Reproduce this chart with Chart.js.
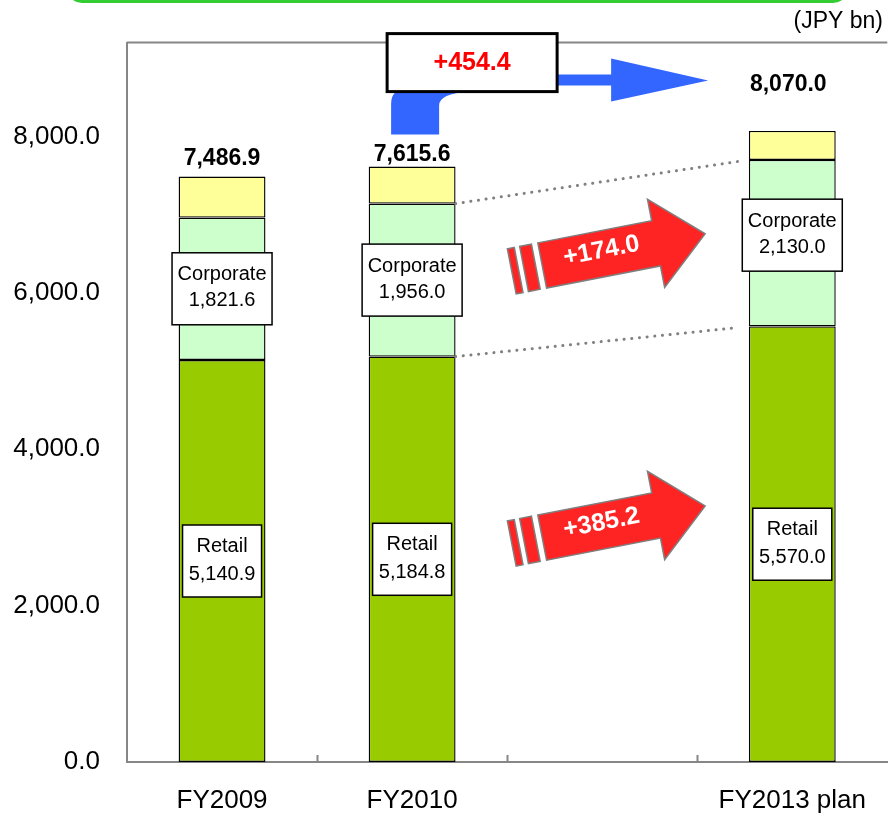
<!DOCTYPE html>
<html>
<head>
<meta charset="utf-8">
<style>
  html, body { margin: 0; padding: 0; background: #fff; }
  canvas { display: block; }
</style>
<script src="https://cdn.jsdelivr.net/npm/chart.js@4.4.1/dist/chart.umd.min.js"></script>
</head>
<body>
<canvas id="salesChart" width="889" height="813"></canvas>
<script>
const categories = ['FY2009', 'FY2010', '', 'FY2013 plan'];
const retail = [5140.9, 5184.8, null, 5570.0];
const corporate = [1821.6, 1956.0, null, 2130.0];
const other = [524.4, 474.8, null, 370.0];
const yTicks = [0, 2000, 4000, 6000, 8000];

const FONT = '"Liberation Sans", Arial, sans-serif';
const fmt = v => v.toLocaleString('en-US', { minimumFractionDigits: 1, maximumFractionDigits: 1 });
const signed = v => (v >= 0 ? '+' : '') + fmt(v);
const totals = retail.map((r, i) => r == null ? null : r + corporate[i] + other[i]);

// how far each total label sits above its bar
const totalLift = [18, 12, null, 46];
const corpBoxShift = [0, 0, null, -8];

function textBox(ctx, cx, cy, w, h, lines, lineGap) {
  ctx.fillStyle = '#fff';
  ctx.fillRect(cx - w / 2, cy - h / 2, w, h);
  ctx.strokeStyle = '#000';
  ctx.lineWidth = 1.5;
  ctx.strokeRect(cx - w / 2, cy - h / 2, w, h);
  ctx.fillStyle = '#000';
  ctx.font = '20px ' + FONT;
  ctx.textAlign = 'center';
  ctx.textBaseline = 'middle';
  ctx.fillText(lines[0], cx, cy - lineGap);
  ctx.fillText(lines[1], cx, cy + lineGap - 2);
}

function redArrow(ctx, ox, oy, text) {
  ctx.save();
  ctx.translate(ox, oy);
  ctx.rotate(-11 * Math.PI / 180);
  ctx.fillStyle = '#ff2424';
  ctx.strokeStyle = '#7f7f7f';
  ctx.lineWidth = 1.5;
  ctx.lineJoin = 'miter';
  ctx.beginPath();
  ctx.moveTo(0, -23);
  ctx.lineTo(116, -23);
  ctx.lineTo(116, -45);
  ctx.lineTo(166, 0);
  ctx.lineTo(116, 45);
  ctx.lineTo(116, 23);
  ctx.lineTo(0, 23);
  ctx.closePath();
  ctx.fill();
  ctx.stroke();
  [[-18.5, 12], [-31, 7]].forEach(([sx, sw]) => {
    ctx.fillRect(sx, -23, sw, 46);
    ctx.strokeRect(sx, -23, sw, 46);
  });
  ctx.fillStyle = '#fff';
  ctx.font = 'bold 25px ' + FONT;
  ctx.textAlign = 'center';
  ctx.textBaseline = 'middle';
  ctx.fillText(text, 61, -3);
  ctx.restore();
}

const annotations = {
  id: 'annotations',
  afterDatasetsDraw(chart) {
    const { ctx, chartArea: a, scales: { x, y } } = chart;
    const retailBars = chart.getDatasetMeta(0).data;
    const corpBars = chart.getDatasetMeta(1).data;
    const topBars = chart.getDatasetMeta(2).data;
    ctx.save();

    // green frame edge at the very top
    ctx.strokeStyle = '#33cc33';
    ctx.lineWidth = 3;
    ctx.beginPath();
    ctx.roundRect(68, -40, 779, 41.5, 14);
    ctx.stroke();

    ctx.fillStyle = '#000';
    ctx.font = '23px ' + FONT;
    ctx.textAlign = 'right';
    ctx.textBaseline = 'middle';
    ctx.fillText('(JPY bn)', 883, 22);

    // plot frame top edge and inward category ticks
    ctx.strokeStyle = '#868686';
    ctx.lineWidth = 2;
    ctx.beginPath();
    ctx.moveTo(a.left, a.top);
    ctx.lineTo(a.right, a.top);
    for (let i = 0; i < categories.length - 1; i++) {
      const px = Math.round((x.getPixelForValue(i) + x.getPixelForValue(i + 1)) / 2) + 0.5;
      ctx.moveTo(px, a.bottom);
      ctx.lineTo(px, a.bottom - 7);
    }
    ctx.stroke();

    // dotted guides from FY2010 segment tops to FY2013
    const from = retailBars[1], to = retailBars[3];
    [[corpBars[1].y, corpBars[3].y], [retailBars[1].y, retailBars[3].y]].forEach(([y0, y1]) => {
      const x0 = from.x + from.width / 2;
      const xt = to.x - to.width / 2;
      const x1 = xt - 10;
      const yEnd = y0 + (y1 - y0) * (x1 - x0) / (xt - x0);
      ctx.strokeStyle = '#808080';
      ctx.lineWidth = 3;
      ctx.lineCap = 'round';
      ctx.setLineDash([0.1, 7.6]);
      ctx.beginPath();
      ctx.moveTo(x0, y0);
      ctx.lineTo(x1, yEnd);
      ctx.stroke();
    });
    ctx.setLineDash([]);
    ctx.lineCap = 'butt';

    // segment value boxes and totals
    retail.forEach((v, i) => {
      if (v == null) return;
      const rb = retailBars[i], cb = corpBars[i], tb = topBars[i];
      textBox(ctx, rb.x, (rb.y + rb.base) / 2, 79, 72, ['Retail', fmt(v)], 15);
      textBox(ctx, cb.x, (cb.y + cb.base) / 2 + corpBoxShift[i], 100, 72, ['Corporate', fmt(corporate[i])], 14);
      ctx.fillStyle = '#000';
      ctx.font = 'bold 23px ' + FONT;
      ctx.textAlign = 'center';
      ctx.textBaseline = 'middle';
      ctx.fillText(fmt(totals[i]), tb.x - (i === 3 ? 4 : 0), tb.y - totalLift[i]);
    });

    // blue elbow arrow from FY2010 total to the FY2013 plan
    const cx = x.getPixelForValue(1);
    const t = a.top;
    const by = topBars[1].y - 32;
    ctx.fillStyle = '#3366ff';
    ctx.beginPath();
    ctx.moveTo(cx - 21, by);
    ctx.lineTo(cx - 21, t + 61);
    ctx.quadraticCurveTo(cx - 21, t + 47, cx - 5, t + 45);
    ctx.lineTo(cx + 90, t + 37);
    ctx.lineTo(cx + 145, t + 32);
    ctx.lineTo(cx + 199, t + 32);
    ctx.lineTo(cx + 199, t + 16);
    ctx.lineTo(cx + 296, t + 38);
    ctx.lineTo(cx + 199, t + 59);
    ctx.lineTo(cx + 199, t + 43);
    ctx.lineTo(cx + 145, t + 43);
    ctx.lineTo(cx + 57, t + 49);
    ctx.quadraticCurveTo(cx + 27, t + 51, cx + 27, t + 63);
    ctx.lineTo(cx + 27, by);
    ctx.closePath();
    ctx.fill();

    ctx.fillStyle = '#fff';
    ctx.fillRect(cx - 25, t - 9, 170, 58);
    ctx.strokeStyle = '#000';
    ctx.lineWidth = 3;
    ctx.strokeRect(cx - 25, t - 9, 170, 58);
    ctx.fillStyle = '#ff0000';
    ctx.font = 'bold 25px ' + FONT;
    ctx.textAlign = 'center';
    ctx.textBaseline = 'middle';
    ctx.fillText(signed(totals[3] - totals[1]), cx + 60, t + 21);

    // red growth arrows for each segment
    const ax = x.getPixelForValue(2) - 60;
    redArrow(ctx, ax, y.getPixelForValue(6350), signed(corporate[3] - corporate[1]));
    redArrow(ctx, ax, y.getPixelForValue(2870), signed(retail[3] - retail[1]));

    ctx.restore();
  }
};

const barStyle = { borderColor: '#000', borderWidth: 1.4, borderSkipped: false };

new Chart(document.getElementById('salesChart'), {
  type: 'bar',
  data: {
    labels: categories,
    datasets: [
      { label: 'Retail', data: retail, backgroundColor: '#99cc00', ...barStyle },
      { label: 'Corporate', data: corporate, backgroundColor: '#ccffcc', ...barStyle },
      { label: 'Other', data: other, backgroundColor: '#ffff99', ...barStyle },
    ],
  },
  options: {
    responsive: false,
    animation: false,
    devicePixelRatio: 1,
    layout: { padding: { top: 41, right: 0, left: 0, bottom: 0 } },
    datasets: { bar: { barPercentage: 0.457, categoryPercentage: 1 } },
    plugins: { legend: { display: false }, tooltip: { enabled: false } },
    scales: {
      x: {
        stacked: true,
        grid: { display: false, drawTicks: false },
        border: { color: '#868686', width: 2 },
        ticks: { color: '#000', font: { family: FONT, size: 26 }, padding: 23, maxRotation: 0, autoSkip: false },
        afterFit(scale) { scale.height = 51; },
      },
      y: {
        stacked: true,
        min: 0,
        max: 9200,
        grid: { display: false, drawTicks: false },
        border: { color: '#868686', width: 2 },
        afterBuildTicks(scale) { scale.ticks = yTicks.map(v => ({ value: v })); },
        ticks: { color: '#000', font: { family: FONT, size: 26 }, padding: 27, callback: v => fmt(v) },
        afterFit(scale) { scale.width = 127; },
      },
    },
  },
  plugins: [annotations],
});
</script>
</body>
</html>
